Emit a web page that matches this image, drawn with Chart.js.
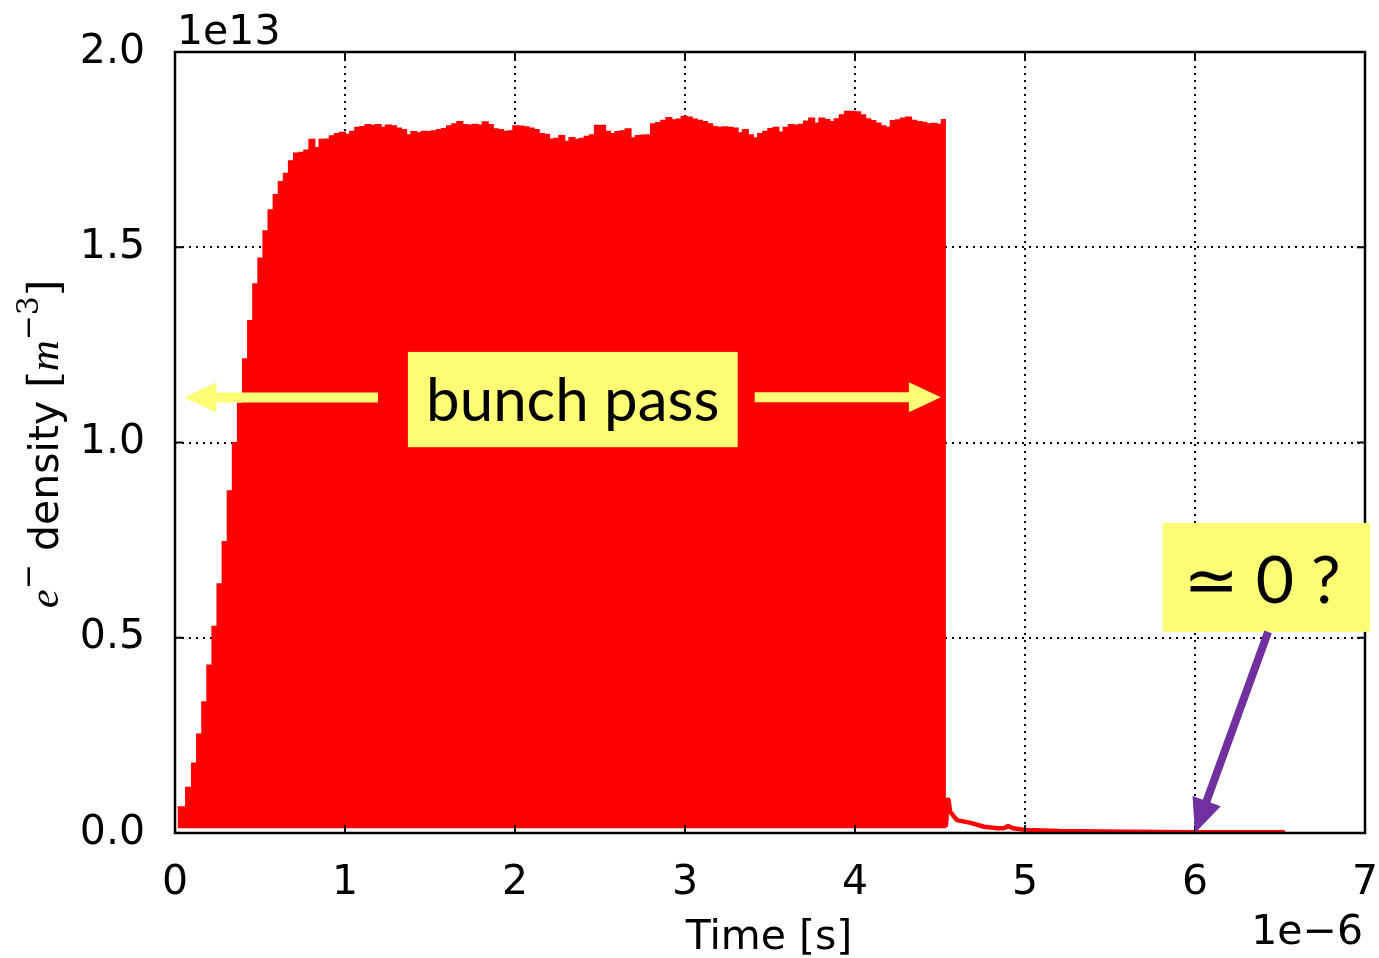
<!DOCTYPE html>
<html>
<head>
<meta charset="utf-8">
<script src="https://cdn.jsdelivr.net/npm/chart.js@4.4.1/dist/chart.umd.min.js"></script>
<style>
html, body { margin: 0; padding: 0; background: #fff; }
</style>
</head>
<body>
<canvas id="densityChart" width="1379" height="958"></canvas>
<script>
// bunch train: passage time of each bunch [1e-6 s] and e- density reached [1e13 m^-3]
var trainTimes = [
    0.015, 0.065, 0.10, 0.13, 0.16, 0.19, 0.22, 0.25, 0.28, 0.31, 0.34, 0.37, 0.40, 0.43, 0.46, 0.49,
    0.52, 0.55, 0.58, 0.61, 0.64, 0.67, 0.70, 0.73, 0.76, 0.79, 0.82, 0.85, 0.88, 0.91, 0.94, 0.97,
    1.00, 1.03, 1.06, 1.09, 1.12, 1.15, 1.18, 1.21, 1.24, 1.27, 1.30, 1.33, 1.36, 1.39, 1.42, 1.45,
    1.48, 1.51, 1.54, 1.57, 1.60, 1.63, 1.66, 1.69, 1.72, 1.75, 1.78, 1.81, 1.84, 1.87, 1.90, 1.93,
    1.96, 1.99, 2.02, 2.05, 2.08, 2.11, 2.14, 2.17, 2.20, 2.23, 2.26, 2.29, 2.32, 2.35, 2.38, 2.41,
    2.44, 2.47, 2.50, 2.53, 2.56, 2.59, 2.62, 2.65, 2.68, 2.71, 2.74, 2.77, 2.80, 2.83, 2.86, 2.89,
    2.92, 2.95, 2.98, 3.01, 3.04, 3.07, 3.10, 3.13, 3.16, 3.19, 3.22, 3.25, 3.28, 3.31, 3.34, 3.37,
    3.40, 3.43, 3.46, 3.49, 3.52, 3.55, 3.58, 3.61, 3.64, 3.67, 3.70, 3.73, 3.76, 3.79, 3.82, 3.85,
    3.88, 3.91, 3.94, 3.97, 4.00, 4.03, 4.06, 4.09, 4.12, 4.15, 4.18, 4.21, 4.24, 4.27, 4.30, 4.33,
    4.36, 4.39, 4.42, 4.45, 4.48, 4.51, 4.535
];
var trainPeaks = [
    0.066, 0.116, 0.178, 0.252, 0.335, 0.429, 0.528, 0.637, 0.745, 0.875, 0.999, 1.099, 1.213, 1.311, 1.405, 1.471,
    1.541, 1.595, 1.634, 1.667, 1.688, 1.720, 1.740, 1.742, 1.748, 1.775, 1.754, 1.775, 1.776, 1.784, 1.790, 1.793,
    1.788, 1.796, 1.806, 1.808, 1.813, 1.811, 1.813, 1.806, 1.812, 1.810, 1.804, 1.800, 1.787, 1.795, 1.792, 1.796,
    1.795, 1.797, 1.800, 1.803, 1.810, 1.815, 1.821, 1.813, 1.812, 1.814, 1.812, 1.820, 1.813, 1.802, 1.800, 1.796,
    1.797, 1.810, 1.809, 1.807, 1.804, 1.800, 1.790, 1.788, 1.776, 1.778, 1.785, 1.770, 1.780, 1.775, 1.778, 1.783,
    1.787, 1.811, 1.811, 1.796, 1.790, 1.795, 1.797, 1.802, 1.779, 1.785, 1.786, 1.787, 1.815, 1.818, 1.824, 1.831,
    1.825, 1.827, 1.834, 1.832, 1.827, 1.824, 1.821, 1.815, 1.808, 1.806, 1.807, 1.806, 1.804, 1.792, 1.800, 1.787,
    1.779, 1.790, 1.796, 1.803, 1.806, 1.794, 1.806, 1.813, 1.812, 1.814, 1.822, 1.830, 1.817, 1.830, 1.826, 1.821,
    1.828, 1.838, 1.847, 1.847, 1.846, 1.838, 1.828, 1.823, 1.817, 1.810, 1.806, 1.823, 1.825, 1.830, 1.832, 1.824,
    1.821, 1.819, 1.815, 1.816, 1.814, 1.826, 1.826
];
// density between two bunches, the bottom of the filled band
var trainFloor = 0.012;

// decay after the last bunch
var tailTimes = [4.535, 4.545, 4.55, 4.56, 4.60, 4.68, 4.76, 4.84, 4.88, 4.90, 4.93, 5.00, 5.20, 5.60, 6.00, 6.52];
var tailValues = [0.020, 0.085, 0.085, 0.054, 0.033, 0.026, 0.016, 0.012, 0.013, 0.018, 0.012, 0.008, 0.005, 0.003, 0.002, 0.002];

var xTicks = [0, 1, 2, 3, 4, 5, 6, 7];
var yTicks = [0.0, 0.5, 1.0, 1.5, 2.0];

var tickFont = { family: 'DejaVu Sans', size: 41 };

function drawArrow(ctx, x0, y0, x1, y1, color, width, headLen, headHalf) {
    var dx = x1 - x0, dy = y1 - y0;
    var len = Math.sqrt(dx * dx + dy * dy);
    var ux = dx / len, uy = dy / len;
    var bx = x1 - ux * headLen, by = y1 - uy * headLen;
    ctx.save();
    ctx.strokeStyle = color;
    ctx.fillStyle = color;
    ctx.lineWidth = width;
    ctx.lineCap = 'butt';
    ctx.beginPath();
    ctx.moveTo(x0, y0);
    ctx.lineTo(bx + ux * 2, by + uy * 2);
    ctx.stroke();
    ctx.beginPath();
    ctx.moveTo(x1, y1);
    ctx.lineTo(bx - uy * headHalf, by + ux * headHalf);
    ctx.lineTo(bx + uy * headHalf, by - ux * headHalf);
    ctx.closePath();
    ctx.fill();
    ctx.restore();
}

var decorations = {
    id: 'decorations',
    afterDraw: function(chart) {
        var ctx = chart.ctx;
        var a = chart.chartArea;
        var xs = chart.scales.x, ys = chart.scales.y;
        var px = function(v) { return xs.getPixelForValue(v); };
        var py = function(v) { return ys.getPixelForValue(v); };

        ctx.save();
        // inward tick marks
        ctx.strokeStyle = '#000';
        ctx.lineWidth = 2;
        ctx.beginPath();
        xTicks.forEach(function(t) {
            ctx.moveTo(px(t), a.bottom); ctx.lineTo(px(t), a.bottom - 8);
            ctx.moveTo(px(t), a.top); ctx.lineTo(px(t), a.top + 8);
        });
        yTicks.forEach(function(t) {
            ctx.moveTo(a.left, py(t)); ctx.lineTo(a.left + 8, py(t));
            ctx.moveTo(a.right, py(t)); ctx.lineTo(a.right - 8, py(t));
        });
        ctx.stroke();

        // frame
        ctx.lineWidth = 2.5;
        ctx.strokeRect(a.left, a.top, a.right - a.left, a.bottom - a.top);

        // offsets and x title
        ctx.fillStyle = '#000';
        ctx.font = '41px "DejaVu Sans"';
        ctx.textBaseline = 'alphabetic';
        ctx.textAlign = 'left';
        ctx.fillText('1e13', a.left + 2, 44);
        ctx.textAlign = 'right';
        ctx.fillText('1e\u22126', a.right - 2, 944);
        ctx.textAlign = 'center';
        ctx.fillText('Time [s]', (a.left + a.right) / 2 - 1, 949);

        // y title, rotated
        var parts = [
            { t: 'e', f: 'italic 43px "Liberation Serif"', r: 0 },
            { t: '\u2212', f: '30px "DejaVu Sans"', r: 20 },
            { t: ' density ', f: '41px "DejaVu Sans"', r: 0 },
            { t: '[', f: '42px "DejaVu Serif"', r: 0 },
            { t: 'm', f: 'italic 43px "Liberation Serif"', r: 0 },
            { t: '\u22123', f: '30px "DejaVu Serif"', r: 20 },
            { t: ']', f: '42px "DejaVu Serif"', r: 0 }
        ];
        var total = 0;
        parts.forEach(function(p) { ctx.font = p.f; p.w = ctx.measureText(p.t).width; total += p.w; });
        ctx.translate(58, 444);
        ctx.rotate(-Math.PI / 2);
        ctx.textAlign = 'left';
        var cx = -total / 2;
        parts.forEach(function(p) {
            ctx.font = p.f;
            ctx.fillText(p.t, cx, -p.r);
            cx += p.w;
        });
        ctx.restore();

        // annotation: bunch pass
        ctx.save();
        var yellow = '#fdfd75';
        drawArrow(ctx, px(1.194), py(1.115), px(0.055), py(1.115), yellow, 10, 32, 15);
        drawArrow(ctx, px(3.41), py(1.116), px(4.505), py(1.116), yellow, 10, 32, 15);
        ctx.fillStyle = yellow;
        ctx.fillRect(px(1.37), py(1.232), px(3.31) - px(1.37), py(0.988) - py(1.232));
        ctx.fillStyle = '#000';
        ctx.font = '60px Lato';
        ctx.textAlign = 'center';
        ctx.textBaseline = 'alphabetic';
        ctx.fillText('bunch pass', px(2.34), py(1.056));

        // annotation: ~ 0 ?
        ctx.fillStyle = yellow;
        ctx.fillRect(px(5.81), py(0.794), px(7.03) - px(5.81), py(0.515) - py(0.794));
        drawArrow(ctx, px(6.43), py(0.515), px(6.0), py(0.0), '#7030a0', 8, 34, 15);
        ctx.fillStyle = '#000';
        ctx.font = '66px Lato, "DejaVu Sans"';
        ctx.fillText('\u2243 0 ?', px(6.394), py(0.589));
        ctx.restore();
    }
};

var ctx = document.getElementById('densityChart').getContext('2d');
var chart = new Chart(ctx, {
    type: 'line',
    data: {
        datasets: [{
            data: trainTimes.map(function(t, i) { return { x: t, y: trainPeaks[i] }; }),
            borderColor: '#ff0000',
            backgroundColor: '#ff0000',
            borderWidth: 2,
            stepped: 'before',
            fill: { value: trainFloor },
            pointRadius: 0
        }, {
            data: tailTimes.map(function(t, i) { return { x: t, y: tailValues[i] }; }),
            borderColor: '#ff0000',
            borderWidth: 4.5,
            borderJoinStyle: 'round',
            borderCapStyle: 'round',
            fill: false,
            pointRadius: 0,
            tension: 0
        }]
    },
    options: {
        responsive: false,
        devicePixelRatio: 1,
        animation: false,
        layout: { padding: { left: 0, top: 52, right: 14, bottom: 0 } },
        plugins: { legend: { display: false }, tooltip: { enabled: false } },
        scales: {
            x: {
                type: 'linear',
                min: 0,
                max: 7,
                afterFit: function(scale) {
                    scale.height = 125;
                    scale.paddingLeft = 0;
                    scale.paddingRight = 0;
                },
                afterBuildTicks: function(scale) { scale.ticks = xTicks.map(function(v) { return { value: v }; }); },
                ticks: { font: tickFont, color: '#000', padding: 26, maxRotation: 0, autoSkip: false,
                         callback: function(v) { return String(v); } },
                grid: { color: '#000', lineWidth: 2, drawTicks: false },
                border: { display: false, dash: [2, 5] }
            },
            y: {
                min: 0,
                max: 2,
                afterFit: function(scale) {
                    scale.width = 175;
                    scale.paddingTop = 0;
                    scale.paddingBottom = 0;
                },
                afterBuildTicks: function(scale) { scale.ticks = yTicks.map(function(v) { return { value: v }; }); },
                ticks: { font: tickFont, color: '#000', padding: 30,
                         callback: function(v) { return v.toFixed(1); } },
                grid: { color: '#000', lineWidth: 2, drawTicks: false },
                border: { display: false, dash: [2, 5] }
            }
        }
    },
    plugins: [decorations]
});
</script>
</body>
</html>
